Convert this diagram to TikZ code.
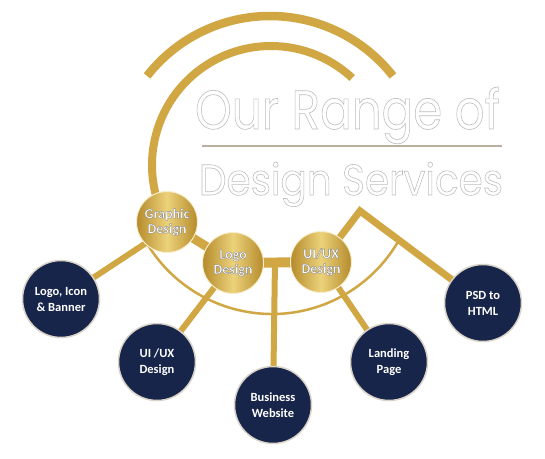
\documentclass[tikz,border=0pt]{standalone}
\usepackage{fontspec}
\setmainfont{Carlito}
\newfontfamily\titlefont{Poppins}
\usetikzlibrary{backgrounds,calc}
\definecolor{navy}{HTML}{17254A}
\definecolor{gold}{HTML}{D1A744}
\definecolor{golddark}{HTML}{B58B2C}
\definecolor{goldlight}{HTML}{ECD27A}
\definecolor{rim}{HTML}{D9D3C7}
\definecolor{rulecol}{HTML}{B9AF9C}
\newcommand{\outl}[4]{\special{pdf:literal direct #1 Tr #2 w #3 G}#4\special{pdf:literal direct 0 Tr}}
\tikzset{
  goldnode/.style={circle, minimum size=61pt, inner sep=0pt, draw=goldlight!40!white, line width=1pt,
    left color=golddark, right color=golddark, middle color=goldlight, text=white,
    font=\bfseries\fontsize{14}{15}\selectfont, align=center},
  navynode/.style={circle, minimum size=77pt, inner sep=0pt, fill=navy, draw=rim, line width=1.5pt,
    text=white, font=\bfseries\fontsize{12.5}{16}\selectfont, align=center},
  goldw/.style={draw=gold, line width=#1},
  titletext/.style={anchor=base west, inner sep=0pt, outer sep=0pt},
  rulestyle/.style={draw=rulecol, line width=1.8pt}
}
\begin{document}
\begin{tikzpicture}[x=1pt,y=1pt]
\useasboundingbox (0,0) rectangle (545,458);
% gold hubs
\node[goldnode] (gd) at (167,236) {\outl{2}{0.35}{0.5}{Graphic\\Design}};
\node[goldnode] (ld) at (233,195) {\outl{2}{0.35}{0.5}{Logo\\Design}};
\node[goldnode] (ud) at (321,196) {\outl{2}{0.35}{0.5}{UI/UX\\Design}};
% navy services
\node[navynode] (lib) at (61,159) {Logo, Icon\\\& Banner};
\node[navynode] (uxd) at (157,96) {UI /UX\\Design};
\node[navynode] (bw) at (273,53) {Business\\Website};
\node[navynode] (lp) at (389,96) {Landing\\Page};
\node[navynode] (psd) at (483,155) {PSD to\\HTML};
% title
\node[titletext] (t1) at (195,329) {\titlefont\fontsize{48}{50}\selectfont\resizebox{305pt}{42pt}{\outl{1}{0.55}{0.74}{Our Range of}}};
\node[titletext] (t2) at (199,263) {\titlefont\fontsize{40}{42}\selectfont\resizebox{304pt}{33pt}{\outl{1}{0.55}{0.74}{Design Services}}};
\coordinate (rl) at (202,312);
\coordinate (rr) at (502,312);
\draw[rulestyle] (rl) -- (rr);
% junctions
\coordinate (jn) at (146,215);
\coordinate (bar) at ($(ld.center)!0.477!(ud.center)$);
\coordinate (cor) at (360,247);
\begin{scope}[on background layer]
  \fill[white] (0,0) rectangle (545,458);
  % arcs
  \draw[goldw=8.5pt] ($(270,286)+(142:156)$) arc[start angle=142, end angle=38, radius=156pt];
  \draw[goldw=8pt] ($(271,293)+(210:119)$) arc[start angle=210, end angle=47, radius=119pt];
  \draw[goldw=2.5pt] ($(272,290)+(211:146)$) arc[start angle=211, end angle=330.5, radius=146pt];
  % connectors
  \draw[goldw=6pt] (lib.center) -- (jn) -- (gd.center);
  \draw[goldw=9pt] (gd.center) -- (ld.center);
  \draw[goldw=10pt] (ld.center) -- (ud.center);
  \draw[goldw=6pt] (bar) -- (bw.center);
  \draw[goldw=6pt] (ld.center) -- (uxd.center);
  \draw[goldw=6pt] (ud.center) -- (lp.center);
  \draw[goldw=7pt, line join=miter] (ud.center) -- (cor) -- (psd.center);
\end{scope}
\end{tikzpicture}
\end{document}
